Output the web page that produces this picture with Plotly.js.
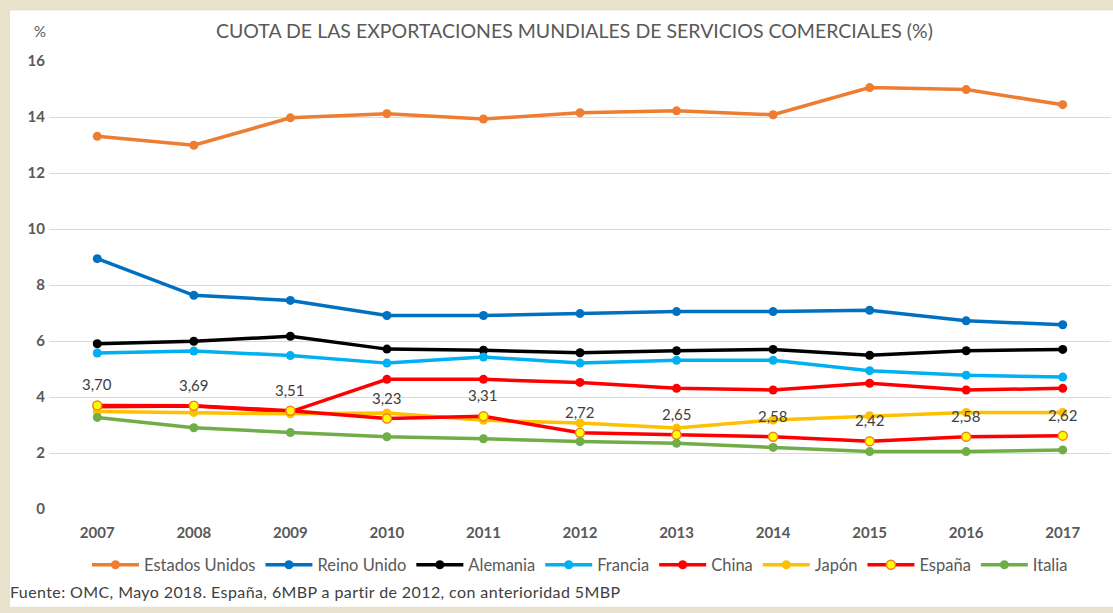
<!DOCTYPE html>
<html>
<head>
<meta charset="utf-8">
<script src="https://cdn.plot.ly/plotly-3.0.1.min.js"></script>
<style>
html,body{margin:0;padding:0;background:#e8e1cc;}
#chart{width:1113px;height:613px;}
</style>
</head>
<body>
<div id="chart"></div>
<script>
const years = [2007, 2008, 2009, 2010, 2011, 2012, 2013, 2014, 2015, 2016, 2017];
const estadosUnidos = [13.31, 12.99, 13.97, 14.12, 13.93, 14.15, 14.22, 14.08, 15.05, 14.98, 14.44];
const reinoUnido = [8.94, 7.63, 7.45, 6.91, 6.91, 6.98, 7.05, 7.05, 7.10, 6.72, 6.58];
const alemania = [5.90, 5.99, 6.17, 5.71, 5.67, 5.58, 5.65, 5.70, 5.49, 5.65, 5.70];
const francia = [5.57, 5.64, 5.48, 5.21, 5.43, 5.21, 5.31, 5.31, 4.94, 4.78, 4.71];
const china = [3.65, 3.68, 3.47, 4.63, 4.63, 4.52, 4.31, 4.25, 4.49, 4.25, 4.31];
const japon = [3.48, 3.45, 3.40, 3.43, 3.17, 3.07, 2.89, 3.18, 3.33, 3.45, 3.45];
const espana = [3.70, 3.69, 3.51, 3.23, 3.31, 2.72, 2.65, 2.58, 2.42, 2.58, 2.62];
const italia = [3.27, 2.90, 2.73, 2.58, 2.51, 2.41, 2.35, 2.20, 2.05, 2.05, 2.11];
const yTicks = [0, 2, 4, 6, 8, 10, 12, 14, 16];

const FONT = 'Lato, "Open Sans", sans-serif';
const GRAY = '#595959';

function series(name, y, color, markerOpts) {
  return {
    type: 'scatter', mode: 'lines+markers', name: name, x: years, y: y,
    line: {color: color, width: 3.5},
    marker: Object.assign({color: color, size: 9, line: {width: 0}}, markerOpts || {}),
    hoverinfo: 'skip'
  };
}

const traces = [
  series('Estados Unidos', estadosUnidos, '#ED7D31'),
  series('Reino Unido', reinoUnido, '#0070C0'),
  series('Alemania', alemania, '#000000'),
  series('Francia', francia, '#00B0F0'),
  series('China', china, '#FF0000'),
  series('Japón', japon, '#FFC000'),
  series('España', espana, '#FF0000', {color: '#FFFF00', size: 9, line: {color: '#F08020', width: 1.5}}),
  series('Italia', italia, '#70AD47')
];

const labelAnnotations = years.map((yr, i) => ({
  x: yr, y: espana[i], xref: 'x', yref: 'y',
  text: espana[i].toFixed(2).replace('.', ','),
  showarrow: false, yshift: 21,
  font: {family: FONT, size: 15, color: '#404040'}
}));

const layout = {
  width: 1113, height: 613,
  margin: {l: 49, r: 2, t: 61, b: 104},
  paper_bgcolor: '#e8e1cc',
  plot_bgcolor: '#ffffff',
  showlegend: true,
  font: {family: FONT, color: GRAY},
  xaxis: {
    range: [2006.5, 2017.5],
    tickmode: 'array', tickvals: years, ticktext: years.map(String),
    showgrid: false, zeroline: false, showline: false, ticks: '',
    tickfont: {family: FONT, size: 15, color: GRAY, weight: 'bold'},
    ticklabelstandoff: 13,
    fixedrange: true
  },
  yaxis: {
    range: [0, 16],
    tickmode: 'array', tickvals: yTicks, ticktext: yTicks.map(String),
    showgrid: true, gridcolor: '#d9d9d9', gridwidth: 1,
    zeroline: false, showline: false, ticks: '',
    tickfont: {family: FONT, size: 15, color: GRAY, weight: 'bold'},
    ticklabelstandoff: 3,
    fixedrange: true
  },
  legend: {
    orientation: 'h', x: 0.5, xanchor: 'center', y: -0.125, yanchor: 'middle',
    font: {family: FONT, size: 16.5, color: GRAY},
    bgcolor: 'rgba(0,0,0,0)', itemwidth: 47, traceorder: 'normal'
  },
  shapes: [{
    type: 'rect', xref: 'paper', yref: 'paper', layer: 'below',
    x0: -0.0367, x1: 1.01, y0: -0.218, y1: 1.113,
    fillcolor: '#ffffff', line: {width: 0}
  }],
  annotations: labelAnnotations.concat([
    {xref: 'paper', yref: 'paper', x: 0.4945, y: 1.067, xanchor: 'center', yanchor: 'middle',
     text: 'CUOTA DE LAS EXPORTACIONES MUNDIALES DE SERVICIOS COMERCIALES (%)', showarrow: false,
     font: {family: FONT, size: 19.5, color: GRAY}},
    {xref: 'paper', yref: 'paper', x: -0.0085, y: 1.067, xanchor: 'center', yanchor: 'middle',
     text: '%', showarrow: false, font: {family: FONT, size: 15, color: GRAY}},
    {xref: 'paper', yref: 'paper', x: -0.0385, y: -0.184, xanchor: 'left', yanchor: 'middle',
     text: '<span style="letter-spacing:0.4px">Fuente: OMC, Mayo 2018. España, 6MBP a partir de 2012, con anterioridad 5MBP</span>', showarrow: false,
     font: {family: FONT, size: 16, color: '#404040'}}
  ])
};

Plotly.newPlot('chart', traces, layout, {staticPlot: true, displayModeBar: false});
</script>
</body>
</html>
